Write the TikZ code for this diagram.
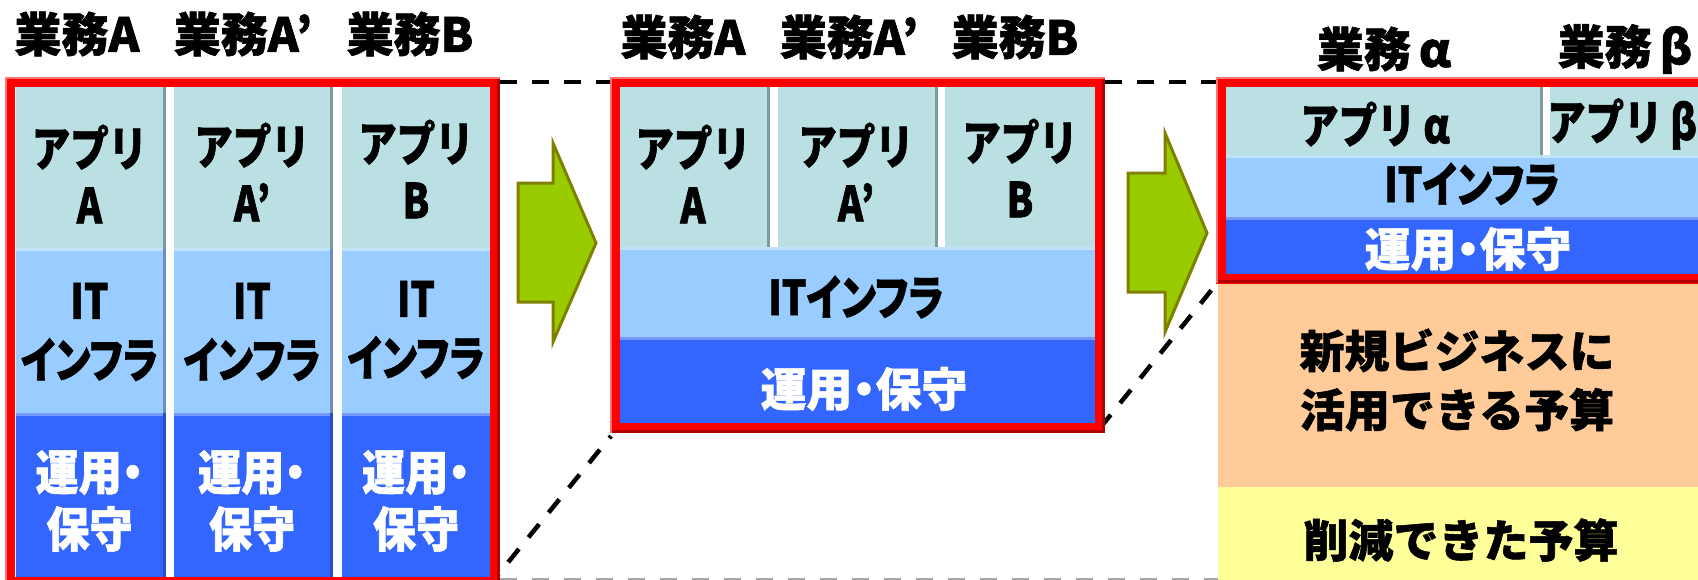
\documentclass[tikz,border=0pt]{standalone}
\usepackage{fontspec}
\newfontfamily\cjk{Noto Sans CJK JP Black}[FakeBold=1.2]
\newfontfamily\cjkn{Noto Sans CJK JP Black}[FakeStretch=0.8,FakeBold=1.2]
\newfontfamily\cjkp{Noto Sans CJK JP Black}[RawFeature=+palt,FakeBold=1.2]
\newfontfamily\cjknp{Noto Sans CJK JP Black}[FakeStretch=0.8,RawFeature=+palt,FakeBold=1.2]
\newfontfamily\cjkmp{Noto Sans CJK JP Black}[FakeStretch=0.9,RawFeature=+palt,FakeBold=1.2]
\definecolor{appc}{HTML}{BBE0E3}
\definecolor{itc}{HTML}{99CCFF}
\definecolor{opc}{HTML}{3366FF}
\definecolor{appsh}{HTML}{7F9A9D}
\definecolor{itsh}{HTML}{6E90B8}
\definecolor{opsh}{HTML}{2A4FC4}
\definecolor{ithl}{HTML}{C2E2F8}
\definecolor{ophl}{HTML}{7799FF}
\definecolor{framered}{HTML}{FF0000}
\definecolor{framedark}{HTML}{B00000}
\definecolor{framelight}{HTML}{FF7373}
\definecolor{arrowfill}{HTML}{99CC00}
\definecolor{arrowline}{HTML}{808000}
\definecolor{orangec}{HTML}{FFCC99}
\definecolor{yellowc}{HTML}{FFFF99}
\tikzset{
  lbl/.style={font=\cjk\fontsize{47}{54}\selectfont, inner sep=0pt},
  txt/.style={font=\cjkn\fontsize{48}{57}\selectfont, align=center, inner sep=0pt},
  ptxt/.style={font=\cjknp\fontsize{48}{59}\selectfont, align=center, inner sep=0pt},
  wtxt/.style={font=\cjkmp\fontsize{48}{57}\selectfont, align=center, inner sep=0pt, text=white},
  wtxtb/.style={font=\cjkp\fontsize{46}{57}\selectfont, align=center, inner sep=0pt, text=white},
  btxt/.style={font=\cjk\fontsize{45}{59}\selectfont, align=center, inner sep=0pt},
  dashln/.style={draw=black, line width=4.5pt, dash pattern=on 17pt off 15pt},
  bigarrow/.style={fill=arrowfill, draw=arrowline, line width=3pt, line join=miter},
  frame/.style={draw=framered, line width=10pt},
  framesh/.style={draw=framedark, line width=3pt},
  framehl/.style={draw=framelight, line width=2pt},
}
\begin{document}
\begin{tikzpicture}[x=1pt,y=-1pt]
\useasboundingbox (0,0) rectangle (1698,579);
\clip (0,0) rectangle (1698,579);
\fill[white] (0,0) rectangle (1698,579);

% ---------- panel 1 ----------
\foreach \l/\r in {16/163,174/330,342/490}{
  \fill[appc] (\l,87) rectangle (\r,248);
  \fill[itc] (\l,248) rectangle (\r,413);
  \fill[opc] (\l,413) rectangle (\r,577);
  \fill[ithl] (\l,248) rectangle (\r,251);
  \fill[ophl] (\l,413) rectangle (\r,416);
  \fill[appsh] (\r,87) rectangle (\r+3,248);
  \fill[itsh] (\r,248) rectangle (\r+3,413);
  \fill[opsh] (\r,413) rectangle (\r+3,577);
}

% ---------- panel 2 ----------
\foreach \l/\r in {620/767,778/935,945/1096}{
  \fill[appc] (\l,87) rectangle (\r,247);
  \fill[appsh] (\r,87) rectangle (\r+2.5,247);
}
\fill[itc] (620,247) rectangle (1096,337);
\fill[ithl] (620,247) rectangle (1096,250);
\fill[opc] (620,337) rectangle (1096,423);
\fill[ophl] (620,337) rectangle (1096,340);

% ---------- panel 3 ----------
\foreach \l/\r in {1226/1540,1550/1720}{
  \fill[appc] (\l,87) rectangle (\r,155);
  \fill[appsh] (\r,87) rectangle (\r+3,155);
}
\fill[itc] (1226,155) rectangle (1720,217);
\fill[ithl] (1226,155) rectangle (1720,158);
\fill[opc] (1226,217) rectangle (1720,274);
\fill[ophl] (1226,217) rectangle (1720,220);
\fill[orangec] (1218,283) rectangle (1720,487);
\fill[yellowc] (1218,487) rectangle (1720,590);

% ---------- dashed zoom lines ----------
\coordinate (p1tr) at (500,82);
\coordinate (p2tl) at (610,82);
\coordinate (p2tr) at (1105,82);
\coordinate (p3tl) at (1216,82);
\coordinate (p1br) at (488,587);
\coordinate (p2bl) at (611,436);
\coordinate (p2br) at (1100,428);
\coordinate (p3bl) at (1218,282);
\coordinate (p1bb) at (500,580);
\coordinate (p3bb) at (1218,580);
\draw[dashln] (p1tr) -- (p2tl);
\draw[dashln] (p2tr) -- (p3tl);
\draw[dashln] (p1br) -- (p2bl);
\draw[dashln] (p2br) -- (p3bl);
\draw[dashln, draw=gray!70] (p1bb) -- (p3bb);

% ---------- arrows ----------
\draw[bigarrow] (518,183) -- (553,183) -- (553,143) -- (596,243) -- (553,342) -- (553,302) -- (518,302) -- cycle;
\draw[bigarrow] (1128,173) -- (1165,173) -- (1165,133) -- (1207,233) -- (1165,332) -- (1165,292) -- (1128,292) -- cycle;

% ---------- frames ----------
\draw[frame] (10,82) rectangle (495,582);
\draw[framesh] (498.5,77) -- (498.5,585.5) -- (5,585.5);
\draw[framehl] (6,587) -- (6,78) -- (500,78);

\draw[frame] (615,82) rectangle (1100,428);
\draw[framesh] (1103.5,77) -- (1103.5,431.5) -- (610,431.5);
\draw[framehl] (611,433) -- (611,78) -- (1105,78);

\draw[frame] (1221,82) rectangle (1730,278.5);
\draw[framesh] (1740,281.5) -- (1216,281.5);
\draw[framehl] (1217,283) -- (1217,78) -- (1740,78);

% ---------- labels ----------
\node[lbl] (l1a) at (77,34) {業務A};
\node[lbl] (l1b) at (243,34) {業務A’};
\node[lbl] (l1c) at (410,34) {業務B};
\node[lbl] (l2a) at (683,37) {業務A};
\node[lbl] (l2b) at (849,37) {業務A’};
\node[lbl] (l2c) at (1015,37) {業務B};
\node[lbl] (l3a) at (1384,49) {業務\hspace{8pt}α};
\node[lbl] (l3b) at (1625,49) {業務\hspace{8pt}β};

% ---------- panel 1 texts ----------
\node[txt] (a1) at (89.5,174) {アプリ\\A};
\node[txt] (a2) at (252,172) {アプリ\\A’};
\node[txt] (a3) at (416,169) {アプリ\\B};
\node[ptxt] (i1) at (89.5,332) {IT\\インフラ};
\node[ptxt] (i2) at (252,332) {IT\\インフラ};
\node[ptxt] (i3) at (416,330) {IT\\インフラ};
\node[wtxt] (o1) at (89.5,501) {運用・\\保守};
\node[wtxt] (o2) at (252,501) {運用・\\保守};
\node[wtxt] (o3) at (416,501) {運用・\\保守};

% ---------- panel 2 texts ----------
\node[txt] (b1) at (693,174) {アプリ\\A};
\node[txt] (b2) at (856,172) {アプリ\\A’};
\node[txt] (b3) at (1020,168) {アプリ\\B};
\node[ptxt] (bi) at (856,297) {ITインフラ};
\node[wtxtb] (bo) at (864,389) {運用・保守};

% ---------- panel 3 texts ----------
\node[txt] (c1) at (1375,124) {アプリ\hspace{8pt}α};
\node[txt, anchor=west] (c2) at (1547,124) {アプリ\hspace{8pt}β};
\node[ptxt] (ci) at (1472,184) {ITインフラ};
\node[wtxtb] (co) at (1468,249) {運用・保守};
\node[btxt] (n1) at (1457,380) {新規ビジネスに\\活用できる予算};
\node[btxt] (n2) at (1461,540) {削減できた予算};
\end{tikzpicture}
\end{document}
